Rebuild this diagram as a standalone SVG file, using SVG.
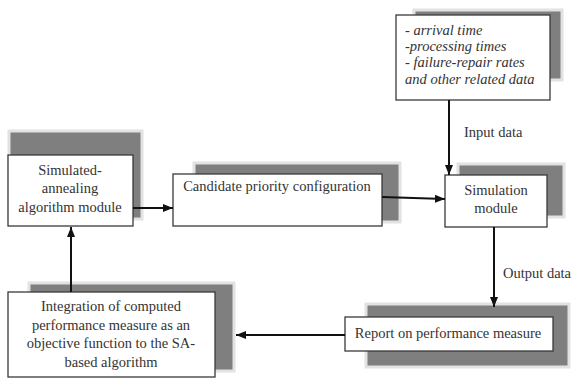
<svg xmlns="http://www.w3.org/2000/svg" width="575" height="378" viewBox="0 0 575 378">
<style>
.sh{fill:#7f7f7f;stroke:#e2e2e2;stroke-width:3}
.bx{fill:#fff;stroke:#3a3a3a;stroke-width:1.3}
.c{stroke:#111;stroke-width:2;fill:none}
</style>
<defs>
<marker id="ah" viewBox="0 0 10 10" refX="10" refY="5" markerWidth="5" markerHeight="5" orient="auto" markerUnits="strokeWidth">
<path d="M0,1 L10,5 L0,9 Z" fill="#111"/>
</marker>
</defs>
<rect width="575" height="378" fill="#fff"/>
<g id="data">
<rect class="sh" x="414" y="10" width="148" height="70"/>
<rect class="bx" x="396" y="15" width="154" height="85"/>
<text font-family="Liberation Serif" font-size="14.5" font-style="italic" fill="#333" x="405" y="35">- arrival time</text>
<text font-family="Liberation Serif" font-size="14.5" font-style="italic" fill="#333" x="405" y="51">-processing times</text>
<text font-family="Liberation Serif" font-size="14.5" font-style="italic" fill="#333" x="405" y="67">- failure-repair rates</text>
<text font-family="Liberation Serif" font-size="14.5" font-style="italic" fill="#333" x="405" y="84">and other related data</text>
</g>
<g id="sa">
<rect class="sh" x="9" y="131" width="133" height="88"/>
<rect class="bx" x="8" y="155" width="125" height="71"/>
<text font-family="Liberation Serif" font-size="14.5" fill="#333" text-anchor="middle" x="70" y="175">Simulated-</text>
<text font-family="Liberation Serif" font-size="14.5" fill="#333" text-anchor="middle" x="70" y="193">annealing</text>
<text font-family="Liberation Serif" font-size="14.5" fill="#333" text-anchor="middle" x="70" y="212">algorithm module</text>
</g>
<g id="candidate">
<rect class="sh" x="194" y="163" width="206" height="59"/>
<rect class="bx" x="173" y="174" width="209" height="52"/>
<text font-family="Liberation Serif" font-size="14.5" fill="#333" text-anchor="middle" x="277" y="191">Candidate priority configuration</text>
</g>
<g id="sim">
<rect class="sh" x="458" y="164" width="106" height="53"/>
<rect class="bx" x="445" y="175" width="102" height="52"/>
<text font-family="Liberation Serif" font-size="14.5" fill="#333" text-anchor="middle" x="496" y="195">Simulation</text>
<text font-family="Liberation Serif" font-size="14.5" fill="#333" text-anchor="middle" x="496" y="213">module</text>
</g>
<g id="report">
<rect class="sh" x="366" y="304" width="203" height="63"/>
<rect class="bx" x="345" y="317" width="208" height="34"/>
<text font-family="Liberation Serif" font-size="14.5" fill="#333" text-anchor="middle" x="448" y="338">Report on performance measure</text>
</g>
<g id="integration">
<rect class="sh" x="29" y="283" width="205" height="88"/>
<rect class="bx" x="8" y="292" width="207" height="85"/>
<text font-family="Liberation Serif" font-size="14.5" fill="#333" text-anchor="middle" x="111" y="311">Integration of computed</text>
<text font-family="Liberation Serif" font-size="14.5" fill="#333" text-anchor="middle" x="111" y="330">performance measure as an</text>
<text font-family="Liberation Serif" font-size="14.5" fill="#333" text-anchor="middle" x="111" y="348">objective function to the SA-</text>
<text font-family="Liberation Serif" font-size="14.5" fill="#333" text-anchor="middle" x="111" y="367">based algorithm</text>
</g>
<g id="connectors">
<line class="c" x1="449" y1="100" x2="449" y2="175" marker-end="url(#ah)"/>
<line class="c" x1="133" y1="208" x2="173" y2="208" marker-end="url(#ah)"/>
<path class="c" d="M382,197 L445,199" marker-end="url(#ah)"/>
<line class="c" x1="494" y1="227" x2="494" y2="307" marker-end="url(#ah)"/>
<line class="c" x1="345" y1="335" x2="236" y2="335" marker-end="url(#ah)"/>
<line class="c" x1="71" y1="292" x2="71" y2="227" marker-end="url(#ah)"/>
<text font-family="Liberation Serif" font-size="14.5" fill="#333" x="464" y="137">Input data</text>
<text font-family="Liberation Serif" font-size="14.5" fill="#333" x="503" y="278">Output data</text>
</g>
</svg>
